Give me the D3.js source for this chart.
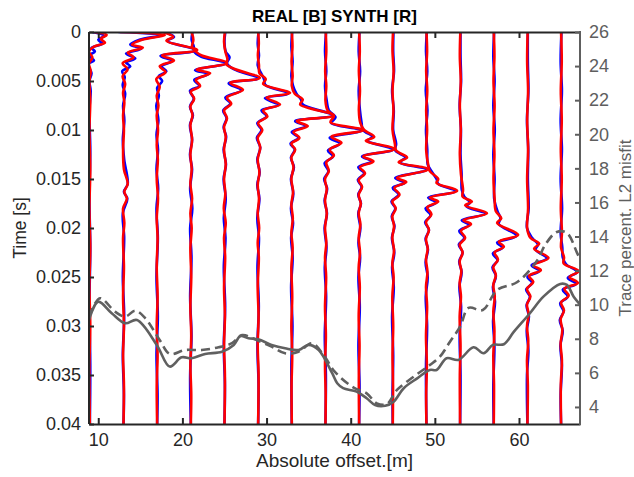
<!DOCTYPE html>
<html>
<head>
<meta charset="utf-8">
<script src="https://cdn.jsdelivr.net/npm/d3@7"></script>
<style>
  html, body { margin: 0; padding: 0; background: #fff; }
  svg { display: block; font-family: "Liberation Sans", Arial, Helvetica, sans-serif; }
</style>
</head>
<body>
<svg id="chart" width="634" height="477"></svg>
<script>
// ---------------- DATA ----------------
const chartTitle = "REAL [B] SYNTH [R]";
const timeTickValues = [0, 0.005, 0.01, 0.015, 0.02, 0.025, 0.03, 0.035, 0.04];
const timeTickLabels = ["0", "0.005", "0.01", "0.015", "0.02", "0.025", "0.03", "0.035", "0.04"];
const offsetTickValues = [10, 20, 30, 40, 50, 60];
const misfitTickValues = [4, 6, 8, 10, 12, 14, 16, 18, 20, 22, 24, 26];

// trace base offsets [m]
const traceOffsets = [9, 13, 17, 21, 25, 29, 33, 37, 41, 45, 49, 53, 57, 61, 65];

// each trace: [time ms, displacement m]
const synth09 = [[0,0.5],[0.3,2.0],[0.7,1.3],[1.1,1.8],[1.5,0.5],[2.0,-0.1],[2.6,0.3],[3.2,-0.1],[4.0,0.1],[5,-0.05],[7,0.05],[10,-0.05],[14,0.05],[18,-0.05],[22,0.05],[26,-0.05],[30,0.05],[34,-0.05],[40,0]];
const real09  = [[0,0.3],[0.4,1.7],[0.8,1.0],[1.2,1.5],[1.6,0.2],[2.0,0.6],[2.4,-0.1],[2.9,0.5],[3.3,-0.2],[4.2,0.2],[5,-0.05],[6,0.1],[8,-0.05],[12,0.05],[17,-0.05],[22,0.05],[28,-0.05],[34,0.05],[40,0]];

const synth13 = [[0,-0.4],[0.3,4.9],[0.8,2.2],[1.3,1.0],[1.6,2.3],[2.1,0.5],[2.6,1.2],[3.2,-0.1],[3.8,0.5],[4.5,-0.1],[5.3,0.2],[6.2,-0.05],[7.2,0.1],[8.5,-0.05],[10,0.05],[12,-0.05],[14,0.05],[15.5,0.5],[16.3,0.1],[17,0.4],[18,-0.05],[19.5,0.1],[21,-0.05],[24,0.05],[27,-0.05],[30,0.05],[33,-0.05],[36,0.05],[40,0]];
const real13  = [[0,-0.6],[0.3,4.6],[0.8,1.9],[1.3,0.8],[1.7,2.1],[2.2,0.3],[2.7,1.4],[3.1,0.3],[3.5,0.8],[4.0,-0.15],[4.6,0.15],[5.4,-0.1],[6.3,0.2],[7.5,-0.05],[9,0.1],[11,-0.08],[13,0.08],[15.5,0.5],[16.3,0.05],[17,0.45],[18.5,-0.08],[21,0.08],[25,-0.08],[29,0.08],[33,-0.08],[37,0.05],[40,0]];

const synth17 = [[0,0.6],[0.5,1.9],[0.9,1.1],[1.84,4.76],[2.4,0.6],[2.9,2.0],[3.5,0.3],[4.1,1.0],[4.8,-0.1],[5.6,0.3],[6.5,-0.05],[7.5,0.15],[8.5,-0.05],[10,0.1],[11.5,-0.05],[13,0.08],[15,-0.05],[17,0.1],[19,-0.05],[21,0.05],[24,-0.05],[27,0.05],[30,-0.05],[33,0.05],[36,-0.05],[40,0]];
const real17  = [[0,0.8],[0.5,2.0],[0.9,1.2],[1.88,4.55],[2.45,0.4],[2.95,1.8],[3.5,0.5],[4.0,1.1],[4.5,0.2],[5.0,0.6],[5.7,0.0],[6.5,0.2],[7.5,-0.1],[9,0.15],[10.5,-0.08],[12,0.1],[14,-0.08],[16,0.12],[18,-0.08],[21,0.08],[25,-0.08],[29,0.08],[33,-0.08],[37,0.05],[40,0]];

const synth21 = [[0,0.1],[0.8,0.3],[1.5,0.15],[2.0,0.6],[2.4,1.3],[3.16,4.3],[3.85,0.7],[4.2,2.3],[4.9,0.6],[5.5,1.1],[6.1,0.0],[6.8,0.4],[7.6,-0.05],[8.5,0.2],[9.5,-0.05],[11,0.15],[12.5,-0.05],[14,0.1],[15.5,-0.05],[17,0.15],[18.5,-0.05],[20,0.1],[22,-0.05],[25,0.05],[28,-0.05],[31,0.05],[34,-0.05],[37,0.05],[40,0]];
const real21  = [[0,0.2],[0.8,0.1],[1.5,0.35],[2.0,0.4],[2.5,1.2],[3.2,4.1],[3.9,0.5],[4.3,2.1],[4.9,0.4],[5.5,1.0],[6.0,-0.1],[6.8,0.35],[7.6,-0.1],[8.5,0.25],[9.5,-0.1],[11,0.15],[12.5,-0.1],[14,0.15],[16,-0.08],[18,0.18],[20,-0.08],[23,0.08],[27,-0.08],[31,0.08],[35,-0.08],[40,0]];

const synth25 = [[0,0.05],[1.0,-0.05],[2.0,0.1],[2.8,0.35],[3.3,0.2],[3.8,1.3],[4.69,4.2],[5.2,0.7],[5.9,2.2],[6.7,0.3],[7.3,0.8],[8.0,-0.05],[8.8,0.3],[9.7,-0.05],[10.7,0.15],[12,-0.05],[13.5,0.15],[15,-0.05],[16.5,0.1],[18,-0.08],[19.5,0.15],[21,-0.05],[23,0.08],[26,-0.05],[29,0.05],[32,-0.05],[35,0.05],[40,0]];
const real25  = [[0,0.1],[1.0,0.0],[2.0,0.15],[2.6,0.6],[3.2,0.3],[3.8,1.1],[4.73,4.0],[5.25,0.5],[5.95,2.0],[6.7,0.1],[7.3,0.7],[8.0,-0.15],[8.8,0.25],[9.7,-0.1],[10.7,0.2],[12,-0.1],[13.5,0.18],[15,-0.1],[17,0.15],[19,-0.08],[21,0.12],[24,-0.08],[28,0.08],[32,-0.08],[36,0.05],[40,0]];

const synth29 = [[0,0.0],[1.2,0.08],[2.4,-0.03],[3.4,0.1],[4.2,0.15],[4.8,0.9],[5.3,0.6],[6.22,3.8],[6.7,1.0],[7.4,2.6],[8.0,0.6],[8.6,1.1],[9.3,0.0],[10.0,0.5],[10.8,-0.05],[11.8,0.25],[13,-0.05],[14.3,0.15],[15.6,-0.05],[17,0.1],[18.5,-0.05],[20,0.12],[21.5,-0.05],[23,0.08],[26,-0.05],[29,0.05],[32,-0.05],[35,0.05],[40,0]];
const real29  = [[0,0.05],[1.2,-0.05],[2.4,0.1],[3.4,-0.05],[4.2,0.35],[4.8,0.7],[5.4,0.85],[6.28,3.6],[6.75,0.8],[7.45,2.4],[8.0,0.4],[8.6,1.0],[9.3,-0.1],[10,0.4],[10.8,-0.15],[11.8,0.25],[13,-0.1],[14.3,0.18],[15.6,-0.1],[17,0.15],[19,-0.1],[21,0.1],[24,-0.08],[28,0.08],[32,-0.08],[36,0.05],[40,0]];

const synth33 = [[0,0.0],[1.5,0.08],[3,-0.03],[4.5,0.1],[5.5,0.0],[6.3,0.35],[6.9,1.3],[7.4,1.0],[8.5,5.0],[9.1,0.6],[9.6,1.9],[10.2,0.2],[10.8,0.9],[11.4,-0.05],[12,0.4],[12.8,-0.05],[13.8,0.2],[15,-0.05],[16.3,0.15],[17.6,-0.05],[19,0.12],[20.5,-0.05],[22,0.1],[24,-0.05],[27,0.05],[30,-0.05],[33,0.05],[36,-0.03],[40,0]];
const real33  = [[0,0.05],[1.5,-0.05],[3,0.1],[4.5,-0.05],[5.5,0.15],[6.3,0.55],[6.9,1.1],[7.4,1.3],[8.5,4.8],[9.1,0.4],[9.6,1.7],[10.2,0.0],[10.8,0.8],[11.4,-0.15],[12,0.35],[12.8,-0.1],[13.8,0.25],[15,-0.1],[16.5,0.18],[18,-0.1],[19.5,0.15],[21,-0.08],[23,0.1],[26,-0.08],[30,0.08],[34,-0.05],[40,0]];

const synth37 = [[0,0.03],[2,0.1],[4,-0.03],[5.5,0.1],[7,0.0],[8.0,0.25],[8.6,1.0],[9.2,0.6],[10.0,4.5],[10.7,0.7],[11.3,1.9],[12.0,0.5],[12.6,1.0],[13.3,0.1],[14.2,0.4],[15,-0.05],[16,0.15],[17.2,-0.05],[18.5,0.15],[20,-0.05],[21.5,0.1],[23,-0.05],[25,0.08],[28,-0.05],[31,0.05],[34,-0.05],[37,0.03],[40,0]];
const real37  = [[0,0.08],[2,-0.05],[4,0.1],[5.5,-0.05],[7,0.15],[8.0,0.4],[8.7,1.2],[9.3,0.7],[10.05,4.3],[10.8,0.5],[11.4,1.7],[12.1,0.3],[12.7,0.9],[13.4,-0.1],[14.2,0.35],[15,-0.15],[16,0.2],[17.2,-0.1],[18.5,0.18],[20,-0.1],[22,0.12],[24,-0.08],[27,0.08],[31,-0.08],[35,0.05],[40,0]];

const synth41 = [[0,0.0],[2,0.08],[4,-0.03],[6,0.1],[8,-0.03],[9.3,0.15],[10.0,0.6],[10.7,1.8],[11.1,0.8],[11.94,4.2],[12.7,0.5],[13.2,1.7],[13.8,0.1],[14.4,0.7],[15.1,-0.05],[15.8,0.35],[16.6,-0.05],[17.5,0.2],[18.5,-0.05],[19.6,0.15],[21,-0.05],[22.5,0.1],[24,-0.05],[26,0.08],[29,-0.05],[32,0.05],[35,-0.03],[40,0]];
const real41  = [[0,0.05],[2,-0.05],[4,0.12],[6,-0.05],[8,0.1],[9.3,0.3],[10.0,0.45],[10.7,1.6],[11.1,0.95],[12.0,4.0],[12.7,0.35],[13.2,1.5],[13.8,-0.1],[14.4,0.6],[15.1,-0.15],[15.8,0.3],[16.6,-0.1],[17.5,0.22],[18.5,-0.1],[20,0.15],[21.5,-0.08],[23,0.12],[25,-0.08],[28,0.08],[32,-0.08],[36,0.05],[40,0]];

const synth45 = [[0,0.03],[2,-0.03],[4,0.1],[6,-0.03],[8,0.08],[10,-0.03],[11.4,0.25],[12.1,0.4],[12.8,1.7],[13.3,0.7],[14.0,4.2],[14.9,0.5],[15.3,1.6],[15.9,0.2],[16.6,0.8],[17.3,-0.05],[18.0,0.35],[18.8,-0.05],[19.8,0.15],[21,-0.05],[22.3,0.15],[23.6,-0.05],[25,0.1],[27,-0.05],[30,0.05],[33,-0.03],[36,0.03],[40,0]];
const real45  = [[0,0.08],[2,0.05],[4,0.15],[6,-0.08],[8,0.12],[10,0.05],[11.4,0.4],[12.1,0.3],[12.8,1.5],[13.3,0.85],[14.05,4.0],[14.9,0.3],[15.4,1.4],[15.9,0.0],[16.6,0.7],[17.3,-0.15],[18.0,0.3],[18.8,-0.12],[19.8,0.2],[21,-0.1],[22.5,0.18],[24,-0.08],[26,0.12],[29,-0.08],[33,0.05],[37,-0.03],[40,0]];

const synth49 = [[0,0.0],[2,0.08],[4,-0.03],[6,0.1],[8,-0.03],[10,0.08],[12,-0.03],[13.5,0.2],[14.2,0.4],[15.0,1.4],[15.4,1.2],[16.2,3.65],[16.9,0.4],[17.3,1.4],[17.9,0.1],[18.6,0.6],[19.4,-0.05],[20.2,0.3],[21.1,-0.05],[22.1,0.15],[23.2,-0.05],[24.5,0.12],[26,-0.05],[28,0.08],[31,-0.05],[34,0.05],[37,-0.03],[40,0]];
const real49  = [[0,0.05],[2,-0.05],[4,0.1],[6,-0.08],[8,0.12],[10,-0.05],[12,0.1],[13.5,0.15],[14.2,0.6],[15.0,1.2],[15.5,1.4],[16.25,3.45],[16.9,0.2],[17.4,1.2],[18.0,-0.1],[18.7,0.5],[19.4,-0.15],[20.2,0.3],[21.1,-0.1],[22.2,0.18],[23.5,-0.1],[25,0.15],[27,-0.08],[30,0.08],[34,-0.05],[40,0]];

const synth53 = [[0,0.03],[2.5,-0.03],[5,0.08],[7.5,-0.03],[10,0.08],[12.5,-0.03],[14.5,0.1],[16.1,0.35],[16.8,0.3],[17.3,1.4],[17.7,0.6],[18.5,3.2],[19.2,0.4],[19.6,1.3],[20.3,0.1],[21,0.6],[21.7,-0.05],[22.5,0.3],[23.4,-0.05],[24.4,0.15],[25.6,-0.05],[27,0.1],[29,-0.05],[32,0.05],[35,-0.03],[40,0]];
const real53  = [[0,0.05],[2.5,0.05],[5,0.12],[7.5,-0.05],[10,0.1],[12.5,0.05],[14.5,0.18],[16.1,0.2],[16.8,0.5],[17.4,1.2],[17.8,0.75],[18.55,3.0],[19.2,0.2],[19.7,1.1],[20.3,-0.1],[21,0.5],[21.7,-0.15],[22.5,0.3],[23.4,-0.1],[24.5,0.18],[26,-0.08],[28,0.12],[31,-0.05],[35,0.05],[40,0]];

const synth57 = [[0,0.0],[2.5,0.08],[5,-0.03],[7.5,0.1],[10,-0.03],[12.5,0.08],[15,-0.03],[17,0.1],[18.3,0.25],[19.0,0.9],[19.5,0.4],[20.7,2.9],[21.4,0.6],[21.9,1.2],[22.5,0.1],[23.2,0.5],[24,-0.05],[24.8,0.25],[25.8,-0.05],[27,0.12],[28.5,-0.05],[30.5,0.08],[33,-0.05],[36,0.03],[40,0]];
const real57  = [[0,0.05],[2.5,-0.05],[5,0.1],[7.5,-0.05],[10,0.12],[12.5,-0.05],[15,0.1],[17,0.05],[18.3,0.45],[19.0,0.8],[19.6,0.6],[20.8,2.7],[21.5,0.4],[22.0,1.05],[22.6,-0.1],[23.3,0.45],[24,-0.15],[24.9,0.25],[26,-0.1],[27.5,0.15],[29.5,-0.08],[32,0.08],[36,-0.05],[40,0]];

const synth61 = [[0,0.03],[3,-0.03],[6,0.08],[9,-0.03],[12,0.08],[15,-0.03],[18,0.08],[20,-0.03],[21.0,0.35],[21.6,1.4],[22.1,0.8],[23.06,2.5],[23.8,0.7],[24.3,1.6],[24.9,0.2],[25.5,0.7],[26.2,-0.05],[27,0.35],[27.8,-0.05],[28.8,0.15],[30,-0.05],[31.5,0.1],[33.5,-0.05],[36,0.05],[40,0]];
const real61  = [[0,0.05],[3,0.05],[6,0.12],[9,-0.05],[12,0.1],[15,0.05],[18,0.15],[20,-0.05],[21.0,0.55],[21.7,1.25],[22.2,0.95],[23.1,2.3],[23.8,0.5],[24.4,1.4],[25,0.0],[25.6,0.55],[26.3,-0.15],[27,0.3],[27.9,-0.1],[29,0.18],[30.5,-0.08],[32.5,0.12],[35,-0.05],[40,0]];

const synth65 = [[0,0.0],[3,0.08],[6,-0.03],[9,0.08],[12,-0.03],[15,0.08],[18,-0.03],[20.5,0.1],[22,0.0],[23.0,0.35],[23.6,0.3],[24.4,2.1],[25.0,1.0],[25.6,2.0],[26.2,0.4],[26.9,0.9],[27.6,0.0],[28.4,0.35],[29.3,-0.05],[30.4,0.15],[31.8,-0.05],[33.5,0.1],[36,-0.03],[40,0]];
const real65  = [[0,0.05],[3,-0.05],[6,0.1],[9,-0.05],[12,0.1],[15,-0.05],[18,0.12],[20.5,-0.05],[22,0.15],[23.0,0.2],[23.7,0.6],[24.5,1.9],[25.1,0.8],[25.7,1.8],[26.3,0.2],[27,0.8],[27.7,-0.1],[28.5,0.3],[29.4,-0.15],[30.5,0.2],[32,-0.08],[34,0.1],[37,-0.05],[40,0]];

// L2 misfit curves: [offset m, percent]
const misfitSolid = [[8.9,9.10],[10.0,10.18],[11.6,9.50],[13.2,8.91],[14.6,9.10],[16.95,7.64],[18.5,6.37],[19.9,6.91],[21.1,6.86],[22.7,7.11],[24.7,7.24],[26.1,7.64],[26.9,8.16],[27.85,8.03],[29.0,7.97],[30.6,7.64],[32.2,7.44],[33.8,7.34],[35.0,7.64],[36.2,7.34],[37.8,5.98],[38.4,5.39],[39.1,5.10],[40.7,4.90],[41.9,4.51],[42.9,4.11],[44.1,4.07],[45.1,4.31],[46.3,5.10],[47.9,5.68],[49.4,6.17],[50.2,6.17],[51.4,6.86],[52.8,6.76],[54.6,7.50],[55.8,7.15],[56.9,7.64],[58.2,7.68],[59.4,8.42],[61.3,9.50],[62.9,10.47],[64.9,11.22],[65.7,11.16],[66.5,10.47],[67.5,9.88]];
const misfitDashed = [[8.9,9.30],[10.2,10.38],[12.0,9.59],[13.2,9.30],[14.4,9.65],[15.6,9.20],[17.3,7.93],[18.5,7.11],[20.3,7.34],[22.3,7.34],[24.3,7.50],[25.9,7.74],[27.1,8.22],[28.6,7.97],[30.6,7.54],[32.2,7.15],[33.8,7.24],[35.4,7.74],[36.9,6.95],[38.1,6.07],[40.3,5.15],[41.9,4.80],[43.1,4.21],[44.3,4.17],[45.5,5.00],[47.5,5.78],[49.4,6.46],[50.6,6.95],[51.8,7.83],[53.0,8.71],[54.0,9.81],[55.7,9.69],[57.4,10.86],[59.8,11.33],[62.2,12.62],[63.1,13.50],[64.5,14.27],[65.7,14.21],[66.9,13.04],[67.4,12.51]];

const realTraces  = [real09, real13, real17, real21, real25, real29, real33, real37, real41, real45, real49, real53, real57, real61, real65];
const synthTraces = [synth09, synth13, synth17, synth21, synth25, synth29, synth33, synth37, synth41, synth45, synth49, synth53, synth57, synth61, synth65];

// ---------------- DRAW ----------------
const L = 89, R = 580, T = 32, B = 424;
const axisColor = "#262626";
const rightColor = "#5e5e5e";
const svg = d3.select("#chart");

const x = d3.scaleLinear().domain([8.9, 67.25]).range([L, R]);
const yT = d3.scaleLinear().domain([0, 0.04]).range([T, B]);
const yM = d3.scaleLinear().domain([3, 26]).range([B, T]);

svg.append("defs").append("clipPath").attr("id", "plotClip")
  .append("rect").attr("x", L).attr("y", T).attr("width", R - L).attr("height", B - T);

const plot = svg.append("g").attr("clip-path", "url(#plotClip)");

function traceLine(off) {
  return d3.line()
    .x(p => x(off + p[1]))
    .y(p => yT(p[0] / 1000))
    .curve(d3.curveCatmullRom.alpha(0.5));
}

realTraces.forEach((tr, i) => {
  plot.append("path").attr("d", traceLine(traceOffsets[i])(tr))
    .attr("fill", "none").attr("stroke", "#0000ff").attr("stroke-width", 2.6)
    .attr("stroke-linejoin", "round");
});
synthTraces.forEach((tr, i) => {
  plot.append("path").attr("d", traceLine(traceOffsets[i])(tr))
    .attr("fill", "none").attr("stroke", "#ff0000").attr("stroke-width", 2.6)
    .attr("stroke-linejoin", "round");
});

const misLine = d3.line().x(p => x(p[0])).y(p => yM(p[1])).curve(d3.curveCatmullRom.alpha(0.5));
plot.append("path").attr("d", misLine(misfitDashed))
  .attr("fill", "none").attr("stroke", "#606060").attr("stroke-width", 2.6)
  .attr("stroke-dasharray", "9,5");
plot.append("path").attr("d", misLine(misfitSolid))
  .attr("fill", "none").attr("stroke", "#606060").attr("stroke-width", 2.6);

// axes
const fontSize = "18px";
const fontFam = '"Liberation Sans", Arial, sans-serif';
const gLeft = svg.append("g").attr("transform", `translate(${L},0)`)
  .call(d3.axisLeft(yT).tickValues(timeTickValues).tickFormat((d, i) => timeTickLabels[i])
    .tickSizeInner(-5).tickSizeOuter(0).tickPadding(8));
const gBottom = svg.append("g").attr("transform", `translate(0,${B})`)
  .call(d3.axisBottom(x).tickValues(offsetTickValues).tickFormat(d3.format("d"))
    .tickSizeInner(-6).tickSizeOuter(0).tickPadding(9));
const gTop = svg.append("g").attr("transform", `translate(0,${T})`)
  .call(d3.axisTop(x).tickValues(offsetTickValues).tickFormat(() => "")
    .tickSizeInner(-6).tickSizeOuter(0));
const gRight = svg.append("g").attr("transform", `translate(${R},0)`)
  .call(d3.axisRight(yM).tickValues(misfitTickValues).tickFormat(d3.format("d"))
    .tickSizeInner(-5).tickSizeOuter(0).tickPadding(9));

[gLeft, gBottom, gTop].forEach(g => {
  g.select(".domain").attr("stroke", axisColor).attr("stroke-width", 2);
  g.selectAll(".tick line").attr("stroke", axisColor).attr("stroke-width", 2);
  g.selectAll(".tick text").attr("fill", axisColor).style("font-size", fontSize)
    .style("font-family", fontFam);
});
gRight.select(".domain").attr("stroke", rightColor).attr("stroke-width", 2);
gRight.selectAll(".tick line").attr("stroke", rightColor).attr("stroke-width", 2);
gRight.selectAll(".tick text").attr("fill", rightColor).style("font-size", fontSize)
  .style("font-family", fontFam);
gLeft.select(".domain").attr("d", `M0,${T}V${B}`);
gRight.select(".domain").attr("d", `M0,${T - 1}V${B + 1}`);

// labels
svg.append("text").attr("x", (L + R) / 2).attr("y", 21.5).attr("text-anchor", "middle")
  .style("font-size", "17px").style("font-weight", "bold").attr("fill", "#000").text(chartTitle);
svg.append("text").attr("x", (L + R) / 2).attr("y", 467).attr("text-anchor", "middle")
  .style("font-size", "19px").attr("fill", axisColor).text("Absolute offset.[m]");
svg.append("text").attr("transform", `translate(25.5,${(T + B) / 2}) rotate(-90)`).attr("text-anchor", "middle")
  .style("font-size", "17.5px").attr("fill", axisColor).text("Time [s]");
svg.append("text").attr("transform", `translate(631,${(T + B) / 2}) rotate(-90)`).attr("text-anchor", "middle")
  .style("font-size", "17px").attr("fill", rightColor).text("Trace percent. L2 misfit");
</script>
</body>
</html>
